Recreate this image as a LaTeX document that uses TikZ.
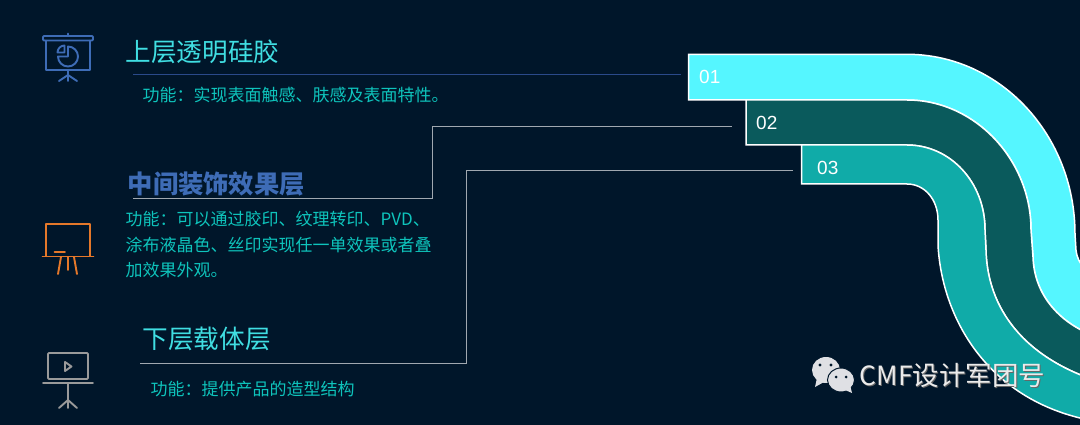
\documentclass[tikz,border=0pt]{standalone}
\usepackage{fontspec}
\setmainfont{Noto Sans CJK SC}
\newfontfamily\numfont{Liberation Sans}
\usepackage{xcolor}
\definecolor{nightbg}{RGB}{0,22,42}
\definecolor{bandcyan}{RGB}{85,246,255}
\definecolor{banddark}{RGB}{10,90,92}
\definecolor{bandteal}{RGB}{16,171,168}
\definecolor{titlecyan}{RGB}{64,222,226}
\definecolor{bodyteal}{RGB}{14,196,188}
\definecolor{midblue}{RGB}{62,108,182}
\definecolor{ruleblue}{RGB}{42,74,138}
\definecolor{iconorange}{RGB}{229,120,42}
\definecolor{icongray}{RGB}{154,154,154}
\definecolor{leadgray}{RGB}{160,168,176}
\definecolor{bubblegray}{RGB}{223,224,228}
\usetikzlibrary{positioning}

\begin{document}
\begin{tikzpicture}[x=1pt,y=-1pt,node distance=8pt]
  \tikzstyle{titletext}=[inner sep=0pt,anchor=west,text=titlecyan,font=\fontsize{25.6}{30}\selectfont]
  \tikzstyle{bodytext}=[inner sep=0pt,anchor=west,align=left,text=bodyteal,font=\fontsize{17}{25.5}\selectfont]
  \tikzstyle{tabnum}=[inner sep=0pt,anchor=west,text=white,font=\numfont\fontsize{19}{22}\selectfont]
  \tikzstyle{band}=[draw=white,line width=1.5pt,line join=miter]
  \tikzstyle{leader}=[draw=leadgray,line width=1pt]
  \tikzstyle{iconline}=[line width=1.9pt,line cap=round,line join=round]
  \useasboundingbox (0,0) rectangle (1080,425);
  \fill[nightbg] (0,0) rectangle (1080,425);
  % bands
  \begin{scope}
    \clip (0,0) rectangle (1080,425);
    \path[band,fill=bandcyan] (688.7,54.3) -- (907,54.3) .. controls (1000,54.3) and (1075,135) .. (1075,234) -- (1076,250) .. controls (1078,265) and (1085,270) .. (1100,275)
      -- (1100,338) .. controls (1060,325) and (1034,295) .. (1033,257) -- (1031,230) .. controls (1031,160) and (975,100) .. (907,100) -- (688.7,100) -- cycle;
    \path[band,fill=banddark] (746,100) -- (907,100) .. controls (975,100) and (1031,160) .. (1031,230) -- (1033,257) .. controls (1034,295) and (1060,325) .. (1100,338)
      -- (1100,382) .. controls (1015,355) and (987,300) .. (986,250) -- (985,230) .. controls (985,182) and (950,145) .. (907,145) -- (746,145) -- cycle;
    \path[band,fill=bandteal] (801.7,145) -- (907,145) .. controls (950,145) and (985,182) .. (985,230) -- (986,250) .. controls (987,300) and (1015,355) .. (1100,382)
      -- (1100,422) .. controls (990,405) and (942,320) .. (938,245) -- (938,220) .. controls (938,200) and (925,184) .. (907,184) -- (801.7,184) -- cycle;
  \end{scope}
  \node[tabnum] (num1) at (699,77) {01};
  \node[tabnum] (num2) at (756,123) {02};
  \node[tabnum] (num3) at (817,168) {03};
  % texts
  \node[titletext] (title1) at (125.5,52) {上层透明硅胶};
  \node[bodytext] (body1) at (142.5,95) {功能：实现表面触感、肤感及表面特性。};
  \node[titletext,text=midblue,font=\fontsize{25.3}{30}\selectfont\bfseries] (title2) at (127.5,184) {中间装饰效果层};
  \node[bodytext] (body2) at (125.5,245) {功能：可以通过胶印、纹理转印、PVD、\\涂布液晶色、丝印实现任一单效果或者叠\\加效果外观。};
  \node[titletext] (title3) at (142.5,339) {下层载体层};
  \node[bodytext] (body3) at (150.5,389) {功能：提供产品的造型结构};
  % leaders
  \coordinate (rule1) at (133,75);
  \coordinate (tab1) at (681,75);
  \coordinate (rule2) at (133,199);
  \coordinate (bend2) at (432,199);
  \coordinate (rise2) at (432,127);
  \coordinate (tab2) at (732,127);
  \coordinate (rule3) at (140,363);
  \coordinate (bend3) at (466,363);
  \coordinate (rise3) at (466,171);
  \coordinate (tab3) at (793,171);
  \draw[leader,draw=ruleblue] (rule1) -- (tab1);
  \draw[leader] (rule2) -- (bend2) -- (rise2) -- (tab2);
  \draw[leader] (rule3) -- (bend3) -- (rise3) -- (tab3);
  % icon top
  \begin{scope}[iconline,draw=midblue]
    \draw[rounded corners=1pt] (43,36) rectangle (93,40.5);
    \draw (68,33.5) -- (68,36);
    \draw (46,40.5) -- (46,70) -- (90,70) -- (90,40.5);
    \draw (68,70) -- (68,81) (68,75) -- (59,81) (68,75) -- (77,81);
    \draw (68,46.5) arc (-90:180:10) -- (68,56.5) -- cycle;
    \draw (64.5,45.5) -- (64.5,52.5) -- (57.5,52.5) arc (180:270:7) -- cycle;
  \end{scope}
  % icon middle
  \begin{scope}[iconline,draw=iconorange]
    \draw (46,256) -- (46,224) -- (90,224) -- (90,256);
    \draw (42.5,256.5) -- (93.5,256.5);
    \draw (54.5,252) -- (65,252);
    \draw (61,257) -- (58,274) (68,257) -- (68,270) (74,257) -- (77,274);
  \end{scope}
  % icon bottom
  \begin{scope}[iconline,draw=icongray]
    \draw[rounded corners=1pt] (48,353) rectangle (88,379);
    \draw (43,383) -- (93,383);
    \draw (68,383) -- (68,408) (68,400) -- (59,408) (68,400) -- (77,408);
    \draw (65,362) -- (71.5,366.5) -- (65,371) -- cycle;
  \end{scope}
  % watermark
  \fill[bubblegray] (826,370) ellipse (14 and 13);
  \fill[bubblegray] (817,378) -- (815,387) -- (824,382) -- cycle;
  \draw[nightbg,fill=bubblegray,line width=1pt] (841,380) ellipse (13.5 and 12);
  \fill[bubblegray] (845,390) -- (852,393) -- (850,385) -- cycle;
  \fill[nightbg] (820,365) circle (1.7) (831,365) circle (1.7) (836,377) circle (1.5) (846,377) circle (1.5);
  \node[inner sep=0pt,anchor=west,text=black!60,font=\fontsize{26.5}{30}\selectfont] (markshadow) at (860.5,376.5) {CMF设计军团号};
  \node[inner sep=0pt,anchor=west,text=white!92!black,font=\fontsize{26.5}{30}\selectfont] (mark) at (859.5,375.5) {CMF设计军团号};
\end{tikzpicture}
\end{document}
